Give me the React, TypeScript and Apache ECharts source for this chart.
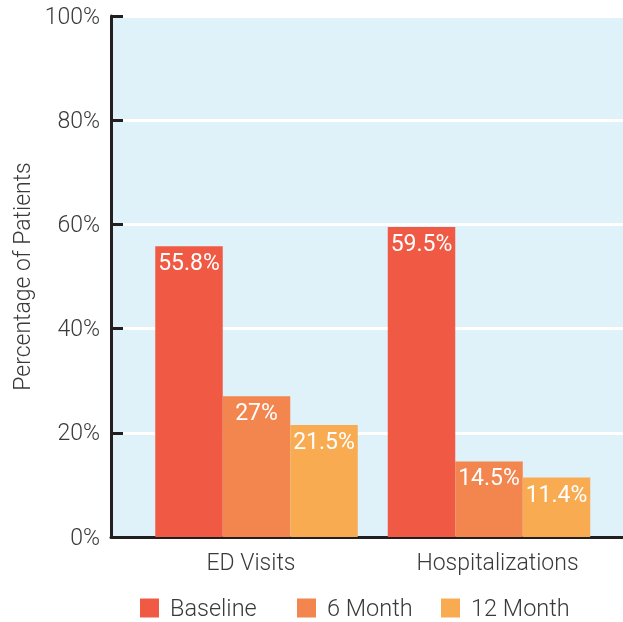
import React, { useEffect, useRef } from "react";
import * as echarts from "echarts";

const categories = ["ED Visits", "Hospitalizations"];
const seriesNames = ["Baseline", "6 Month", "12 Month"];
const baseline = [55.8, 59.5];
const month6 = [27, 14.5];
const month12 = [21.5, 11.4];
const labelTexts = [
  ["55.8%", "59.5%"],
  ["27%", "14.5%"],
  ["21.5%", "11.4%"],
];
const colors = ["#f05a45", "#f3854f", "#f9ab52"];
const legendLefts = [140, 297, 441];
const FONT = "Roboto, 'Liberation Sans', sans-serif";
const TXT = "#3a3a3a";
const FS = 23;

export default function App() {
  const ref = useRef<HTMLDivElement>(null);
  useEffect(() => {
    if (!ref.current) return;
    const chart = echarts.init(ref.current, undefined, { renderer: "svg" });
    const values = [baseline, month6, month12];
    chart.setOption({
      animation: false,
      textStyle: { fontFamily: FONT },
      grid: [
        { left: 111, right: 0, top: 16, bottom: 85, show: true, backgroundColor: "#dff2fa", borderWidth: 0 },
        { left: 140.25, right: 17.75, top: 16, bottom: 85 },
      ],
      legend: seriesNames.map((n, i) => ({
        top: 596,
        left: legendLefts[i],
        padding: 0,
        itemWidth: 19,
        itemHeight: 19,
        itemGap: 11,
        icon: "rect",
        textStyle: { fontSize: 23.5, color: TXT, fontWeight: 300, fontFamily: FONT, padding: [3, 0, 0, 6] },
        data: [n],
      })),
      xAxis: [
        {
          gridIndex: 0,
          type: "value",
          min: 0,
          max: 1,
          position: "bottom",
          axisLine: { show: true, lineStyle: { color: "#231f20", width: 3 } },
          axisTick: { show: false },
          axisLabel: { show: false },
          splitLine: { show: false },
        },
        {
          gridIndex: 1,
          type: "category",
          data: categories,
          axisLine: { show: false },
          axisTick: { show: false },
          axisLabel: {
            interval: 0,
            hideOverlap: false,
            margin: 14,
            fontSize: FS,
            color: TXT,
            fontWeight: 300,
            fontFamily: FONT,
            formatter: (v: string, i: number) => (i === 0 ? "{a|" + v + "}" : "{b|" + v + "}"),
            rich: {
              a: { fontSize: FS, color: TXT, fontWeight: 300, fontFamily: FONT, padding: [0, 11, 0, 0] },
              b: { fontSize: FS, color: TXT, fontWeight: 300, fontFamily: FONT, padding: [0, 0, 0, 17] },
            },
          },
        },
      ],
      yAxis: [
        {
          gridIndex: 0,
          type: "value",
          min: 0,
          max: 100,
          interval: 20,
          name: "Percentage of Patients",
          nameLocation: "middle",
          nameGap: 75,
          nameTextStyle: { fontSize: FS, color: TXT, fontWeight: 300, fontFamily: FONT },
          axisLine: { show: true, lineStyle: { color: "#231f20", width: 3 } },
          axisTick: { show: true, inside: true, length: 12, lineStyle: { color: "#231f20", width: 3 } },
          axisLabel: {
            margin: 11,
            fontSize: FS,
            color: TXT,
            fontWeight: 300,
            fontFamily: FONT,
            formatter: (v: number) => v + "%",
          },
          splitLine: { show: true, lineStyle: { color: "#ffffff", width: 3 } },
        },
        {
          gridIndex: 1,
          type: "value",
          min: 0,
          max: 100,
          show: false,
        },
      ],
      series: seriesNames.map((name, si) => ({
        name,
        type: "bar",
        xAxisIndex: 1,
        yAxisIndex: 1,
        barWidth: 67.5,
        barGap: "0%",
        itemStyle: { color: colors[si] },
        data: values[si],
        label: {
          show: true,
          position: "insideTop",
          distance: 5,
          color: "#ffffff",
          fontSize: FS,
          fontFamily: FONT,
          formatter: (p: any) => labelTexts[si][p.dataIndex],
        },
      })),
    });
    return () => chart.dispose();
  }, []);
  return <div ref={ref} style={{ position: "fixed", left: 0, top: 0, width: 623, height: 622 }} />;
}
